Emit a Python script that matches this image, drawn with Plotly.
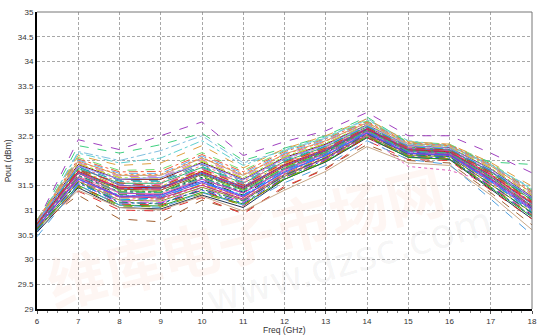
import plotly.graph_objects as go

freq_ghz = [6, 7, 8, 9, 10, 11, 12, 13, 14, 15, 16, 17, 18]

# Monte Carlo runs: Pout (dBm) at each frequency
mc01 = [30.55, 31.45, 31.05, 31.02, 31.30, 31.05, 31.62, 31.97, 32.46, 32.07, 32.02, 31.42, 30.82]
mc02 = [30.60, 31.50, 31.10, 31.08, 31.36, 31.12, 31.62, 31.98, 32.48, 32.06, 32.03, 31.45, 30.86]
mc03 = [30.58, 31.48, 31.12, 31.10, 31.40, 31.08, 31.66, 32.00, 32.46, 32.10, 32.05, 31.48, 30.90]
mc04 = [30.62, 31.55, 31.14, 31.14, 31.40, 31.14, 31.66, 32.02, 32.50, 32.08, 32.05, 31.46, 30.88]
mc05 = [30.63, 31.53, 31.17, 31.15, 31.45, 31.16, 31.70, 32.03, 32.52, 32.12, 32.07, 31.50, 30.92]
mc06 = [30.60, 31.58, 31.20, 31.18, 31.46, 31.20, 31.68, 32.06, 32.50, 32.10, 32.08, 31.52, 30.95]
mc07 = [30.65, 31.60, 31.22, 31.22, 31.50, 31.20, 31.74, 32.05, 32.53, 32.12, 32.07, 31.53, 30.93]
mc08 = [30.66, 31.60, 31.25, 31.22, 31.52, 31.25, 31.74, 32.08, 32.55, 32.15, 32.10, 31.55, 30.98]
mc09 = [30.64, 31.63, 31.26, 31.27, 31.55, 31.26, 31.78, 32.10, 32.55, 32.14, 32.10, 31.57, 31.00]
mc10 = [30.68, 31.64, 31.30, 31.28, 31.58, 31.30, 31.78, 32.11, 32.57, 32.16, 32.11, 31.58, 30.98]
mc11 = [30.66, 31.67, 31.32, 31.32, 31.60, 31.30, 31.82, 32.13, 32.58, 32.16, 32.12, 31.60, 31.03]
mc12 = [30.70, 31.68, 31.34, 31.33, 31.63, 31.35, 31.80, 32.14, 32.58, 32.18, 32.13, 31.62, 31.05]
mc13 = [30.68, 31.70, 31.37, 31.36, 31.66, 31.36, 31.85, 32.16, 32.60, 32.18, 32.14, 31.63, 31.06]
mc14 = [30.70, 31.73, 31.38, 31.38, 31.68, 31.40, 31.86, 32.17, 32.61, 32.20, 32.15, 31.66, 31.10]
mc15 = [30.71, 31.74, 31.42, 31.40, 31.72, 31.42, 31.88, 32.19, 32.62, 32.20, 32.16, 31.67, 31.08]
mc16 = [30.69, 31.76, 31.44, 31.44, 31.74, 31.44, 31.91, 32.20, 32.63, 32.22, 32.17, 31.69, 31.12]
mc17 = [30.72, 31.78, 31.46, 31.45, 31.78, 31.46, 31.92, 32.23, 32.64, 32.22, 32.18, 31.71, 31.14]
mc18 = [30.73, 31.80, 31.49, 31.48, 31.80, 31.50, 31.94, 32.24, 32.66, 32.24, 32.19, 31.73, 31.16]
mc19 = [30.72, 31.83, 31.52, 31.50, 31.84, 31.52, 31.98, 32.26, 32.67, 32.25, 32.20, 31.75, 31.18]
mc20 = [30.74, 31.84, 31.54, 31.54, 31.86, 31.54, 31.98, 32.28, 32.68, 32.27, 32.22, 31.77, 31.20]
mc21 = [30.75, 31.87, 31.57, 31.56, 31.90, 31.58, 32.02, 32.30, 32.70, 32.27, 32.23, 31.79, 31.23]
mc22 = [30.74, 31.90, 31.60, 31.60, 31.92, 31.60, 32.03, 32.32, 32.70, 32.29, 32.24, 31.80, 31.25]
mc23 = [30.76, 31.92, 31.62, 31.62, 31.96, 31.62, 32.06, 32.33, 32.72, 32.30, 32.26, 31.83, 31.27]
mc24 = [30.77, 31.94, 31.65, 31.65, 31.98, 31.65, 32.08, 32.35, 32.73, 32.32, 32.27, 31.85, 31.30]
mc25 = [30.76, 31.96, 31.68, 31.67, 32.02, 31.68, 32.10, 32.38, 32.75, 32.33, 32.28, 31.87, 31.32]
mc26 = [30.78, 31.99, 31.70, 31.70, 32.05, 31.70, 32.13, 32.40, 32.76, 32.34, 32.30, 31.89, 31.35]
mc27 = [30.79, 32.01, 31.74, 31.74, 32.09, 31.74, 32.15, 32.42, 32.78, 32.36, 32.31, 31.91, 31.37]
mc28 = [30.80, 32.03, 31.77, 31.78, 32.12, 31.77, 32.18, 32.44, 32.79, 32.37, 32.32, 31.93, 31.38]
mc29 = [30.80, 32.06, 31.80, 31.82, 32.16, 31.80, 32.20, 32.46, 32.80, 32.38, 32.33, 31.95, 31.40]
mc30 = [30.75, 32.42, 32.22, 32.50, 32.78, 32.10, 32.38, 32.60, 32.97, 32.50, 32.50, 32.15, 31.75]
mc31 = [30.72, 32.30, 32.15, 32.32, 32.55, 32.00, 32.25, 32.50, 32.88, 32.35, 32.25, 31.97, 31.92]
mc32 = [30.70, 32.18, 32.00, 32.20, 32.50, 31.95, 32.20, 32.45, 32.85, 32.33, 32.28, 31.90, 31.45]
mc33 = [30.72, 32.15, 31.95, 32.05, 32.40, 31.90, 32.22, 32.48, 32.82, 32.40, 32.30, 31.92, 31.42]
mc34 = [30.74, 32.10, 31.90, 31.95, 32.30, 31.85, 32.24, 32.50, 32.84, 32.38, 32.33, 31.96, 31.48]
mc35 = [30.68, 31.30, 30.82, 30.76, 31.20, 30.95, 31.45, 31.85, 32.32, 32.00, 31.95, 31.35, 30.70]
mc36 = [30.62, 31.38, 31.00, 30.98, 31.25, 30.92, 31.48, 31.82, 32.40, 32.02, 32.00, 31.40, 30.82]
mc37 = [30.62, 31.40, 31.05, 31.00, 31.28, 30.98, 31.40, 31.78, 32.28, 31.95, 31.90, 31.30, 30.60]
mc38 = [30.66, 31.60, 31.20, 31.20, 31.50, 31.20, 31.70, 32.05, 32.50, 31.88, 31.80, 31.55, 31.20]
mc39 = [30.46, 31.50, 31.10, 31.05, 31.35, 31.10, 31.55, 31.90, 32.40, 32.02, 31.92, 31.22, 30.50]
mc40 = [30.58, 31.52, 31.20, 31.25, 31.55, 31.30, 31.80, 32.12, 32.58, 32.18, 32.12, 31.58, 30.96]
mc41 = [30.64, 31.66, 31.28, 31.24, 31.50, 31.22, 31.72, 32.04, 32.52, 32.14, 32.12, 31.62, 31.08]
mc42 = [30.70, 31.82, 31.40, 31.36, 31.70, 31.40, 31.84, 32.18, 32.60, 32.22, 32.20, 31.74, 31.20]
mc43 = [30.67, 31.72, 31.48, 31.52, 31.82, 31.55, 31.96, 32.26, 32.66, 32.26, 32.20, 31.70, 31.10]
mc44 = [30.73, 31.88, 31.50, 31.46, 31.76, 31.48, 31.90, 32.22, 32.65, 32.24, 32.21, 31.78, 31.24]
mc45 = [30.76, 31.93, 31.66, 31.64, 32.00, 31.64, 32.06, 32.34, 32.72, 32.31, 32.27, 31.86, 31.30]
mc46 = [30.61, 31.57, 31.16, 31.12, 31.42, 31.18, 31.70, 32.06, 32.54, 32.12, 32.08, 31.52, 30.94]
mc47 = [30.69, 31.75, 31.35, 31.30, 31.62, 31.34, 31.82, 32.15, 32.59, 32.19, 32.14, 31.64, 31.04]
mc48 = [30.74, 31.86, 31.58, 31.58, 31.88, 31.56, 32.00, 32.29, 32.69, 32.28, 32.23, 31.80, 31.22]
mc49 = [30.78, 31.97, 31.72, 31.72, 32.06, 31.72, 32.12, 32.39, 32.77, 32.35, 32.30, 31.90, 31.34]
mc50 = [30.66, 31.62, 31.28, 31.30, 31.58, 31.28, 31.76, 32.10, 32.56, 32.15, 32.11, 31.60, 31.02]
mc51 = [30.71, 31.79, 31.44, 31.42, 31.76, 31.45, 31.90, 32.21, 32.63, 32.23, 32.18, 31.72, 31.15]
mc52 = [30.63, 31.47, 31.08, 31.06, 31.33, 31.10, 31.64, 32.00, 32.49, 32.09, 32.04, 31.47, 30.89]
mc53 = [30.75, 31.89, 31.62, 31.66, 31.94, 31.61, 32.04, 32.31, 32.71, 32.30, 32.25, 31.82, 31.26]
mc54 = [30.72, 31.81, 31.55, 31.48, 31.82, 31.50, 31.96, 32.25, 32.66, 32.26, 32.21, 31.76, 31.17]
mc55 = [30.68, 31.69, 31.36, 31.35, 31.64, 31.38, 31.84, 32.16, 32.60, 32.19, 32.15, 31.65, 31.07]

runs = [mc01, mc02, mc03, mc04, mc05, mc06, mc07, mc08, mc09, mc10,
        mc11, mc12, mc13, mc14, mc15, mc16, mc17, mc18, mc19, mc20,
        mc21, mc22, mc23, mc24, mc25, mc26, mc27, mc28, mc29, mc30,
        mc31, mc32, mc33, mc34, mc35, mc36, mc37, mc38, mc39, mc40,
        mc41, mc42, mc43, mc44, mc45, mc46, mc47, mc48, mc49, mc50,
        mc51, mc52, mc53, mc54, mc55]

x_ticks = list(range(6, 19))
y_ticks = [29, 29.5, 30, 30.5, 31, 31.5, 32, 32.5, 33, 33.5, 34, 34.5, 35]
y_tick_labels = ["29", "29.5", "30", "30.5", "31", "31.5", "32", "32.5", "33", "33.5", "34", "34.5", "35"]
x_title = "Freq (GHz)"
y_title = "Pout (dBm)"

colors = ["#1f2f4f", "#20a020", "#e02020", "#3050e0", "#e040e0", "#909020", "#20a0a0",
          "#f09020", "#9030c0", "#30d0e0", "#106010", "#f080b0", "#202080", "#90e020",
          "#905020", "#2070d0", "#c01010", "#d0b020", "#a060e0", "#30b070", "#f08070",
          "#4080b0", "#801010", "#80f040", "#d070d0", "#c0a070", "#60b0f0", "#f06040",
          "#70e070", "#a040c0", "#40d080", "#80c0e0", "#60d0d0", "#e0a040", "#a06030",
          "#e03030", "#c8a888", "#e060c0", "#50a0e0",
          "#00a0ff", "#c03080", "#40a040", "#ff60a0", "#6060c0", "#e0c040", "#208060",
          "#b040b0", "#10b0b0", "#ff8040", "#5050ff", "#e02060", "#80a000", "#9090ff",
          "#d04020", "#30c090"]
dashes = ["solid", "solid", "dash", "dashdot", "dash", "solid", "dash", "dashdot", "solid",
          "dot", "dash", "solid", "dashdot", "dash", "solid", "solid", "solid", "dashdot",
          "dash", "solid", "dot", "dash", "solid", "dashdot", "dash", "solid", "dash",
          "dashdot", "dash", "dash", "dash", "dashdot", "dashdot", "dash", "dash", "dash",
          "solid", "dot", "dash",
          "dash", "solid", "dashdot", "dash", "solid", "dash", "dashdot", "solid", "dash",
          "dot", "solid", "dashdot", "dash", "solid", "dash", "dashdot"]

fig = go.Figure()
for i, r in enumerate(runs):
    fig.add_trace(go.Scatter(x=freq_ghz, y=r, mode="lines",
                             line=dict(color=colors[i], width=1, dash=dashes[i]),
                             showlegend=False, hoverinfo="skip"))

FONT = "Liberation Sans, Arial, sans-serif"
grid = dict(showgrid=True, gridcolor="#a8a8a8", gridwidth=1, griddash="3px,2px")
tickfont = dict(family=FONT, size=8, color="#333")

fig.update_layout(
    width=541, height=335,
    margin=dict(l=37, r=9, t=12, b=26),
    paper_bgcolor="white", plot_bgcolor="white",
    xaxis=dict(range=[6, 18], tickvals=x_ticks, ticks="outside", ticklen=3, tickcolor="#555",
               showline=True, linecolor="black", linewidth=2, zeroline=False,
               minor=dict(dtick=0.25, ticks="outside", ticklen=2, tickcolor="#888", showgrid=False),
               tickfont=tickfont, ticklabeloverflow="allow", automargin=False,
               **grid),
    yaxis=dict(range=[29, 35], tickvals=y_ticks, ticktext=y_tick_labels, ticks="", ticklen=0,
               showline=True, linecolor="black", linewidth=2, zeroline=False,
               tickfont=tickfont, ticklabeloverflow="allow", automargin=False,
               **grid),
)

fig.add_shape(type="line", xref="paper", yref="paper", x0=0, x1=1, y0=1, y1=1,
              line=dict(color="#777", width=1))
fig.add_shape(type="line", xref="paper", yref="paper", x0=1, x1=1, y0=0, y1=1,
              line=dict(color="#777", width=1))

# axis titles
fig.add_annotation(text=x_title, xref="paper", yref="paper", x=0.5, y=-0.0707,
                   xanchor="center", yanchor="middle", showarrow=False,
                   font=dict(family=FONT, size=8.5, color="#333"))
fig.add_annotation(text=y_title, xref="paper", yref="paper", x=-0.059, y=0.5,
                   xanchor="center", yanchor="middle", textangle=-90, showarrow=False,
                   font=dict(family=FONT, size=8.5, color="#333"))

# faint watermark
fig.add_annotation(text="<b>维库电子市场网</b>", xref="paper", yref="paper", x=0.42, y=0.25,
                   xanchor="center", yanchor="middle",
                   showarrow=False, textangle=-14,
                   font=dict(family="Noto Sans CJK SC", size=58, color="rgba(235,130,90,0.07)"))
fig.add_annotation(text="www.dzsc.com", xref="paper", yref="paper", x=0.632, y=0.165,
                   xanchor="center", yanchor="middle",
                   showarrow=False, textangle=-16,
                   font=dict(family="DejaVu Sans", size=40, color="rgba(120,120,120,0.08)"))

fig.write_html("out.html", config={"displayModeBar": False},
               post_script="document.body.style.margin='0';document.body.style.overflow='hidden';")
